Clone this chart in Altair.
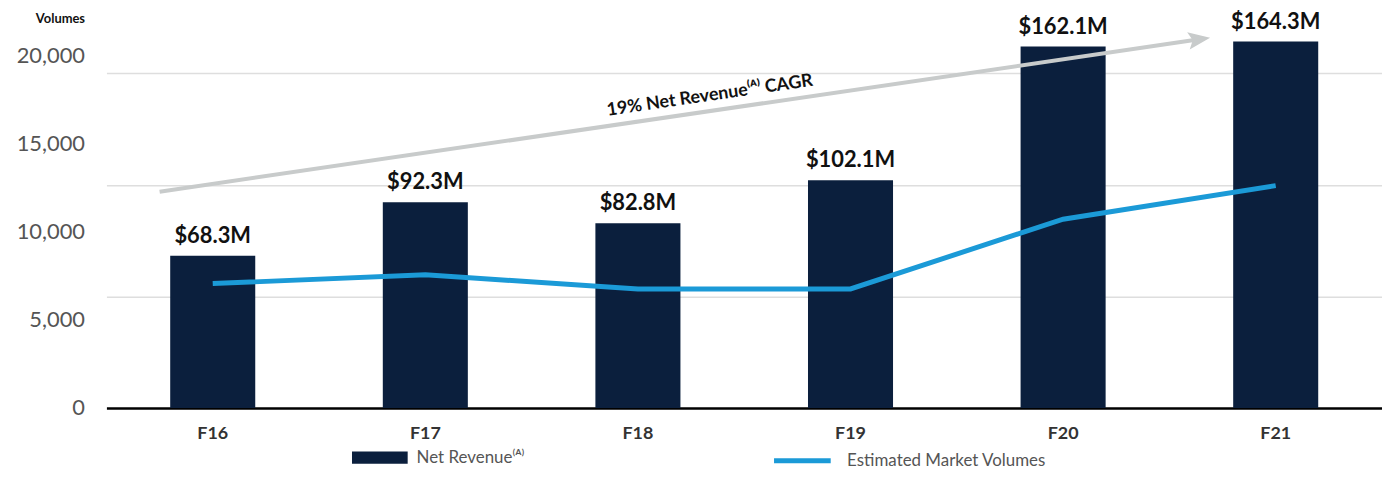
import altair as alt
import pandas as pd

# ---------------- data ----------------
categories = ["F16", "F17", "F18", "F19", "F20", "F21"]
revenue = [68.3, 92.3, 82.8, 102.1, 162.1, 164.3]          # $M
revenue_labels = ["$68.3M", "$92.3M", "$82.8M", "$102.1M", "$162.1M", "$164.3M"]
volumes = [7050, 7550, 6750, 6750, 10700, 12600]
volume_ticks = [0, 5000, 10000, 15000, 20000]
revenue_grid = [50, 100, 150]

rev_series = "Net Revenue⁽ᴬ⁾"
vol_series = "Estimated Market Volumes"

# CAGR arrow annotation, in category-index / $M units
arrow_x = [-0.25, 4.687]
arrow_rev = [97.0, 166.0]
cagr_text = ["19% Net Revenue⁽ᴬ⁾ CAGR"]
cagr_x = [2.336]
cagr_rev = [140.0]

# ---------------- styles ----------------
NAVY = "#0b1f3d"
BLUE = "#1b9ad7"
GREY = "#c8cbcb"
FONT = "Lato"
REV_DOMAIN = [0, 173.4]
VOL_DOMAIN = [0, 21915]

df = pd.DataFrame({
    "cat": categories,
    "revenue": revenue,
    "label": revenue_labels,
    "volume": volumes,
    "s_rev": [rev_series] * len(categories),
    "s_vol": [vol_series] * len(categories),
})

line_end = [arrow_x[0] + 0.985 * (arrow_x[1] - arrow_x[0]),
            arrow_rev[0] + 0.985 * (arrow_rev[1] - arrow_rev[0])]
arrow_line_df = pd.DataFrame({"xi": [arrow_x[0], line_end[0]],
                              "rev": [arrow_rev[0], line_end[1]]})
arrow_head_df = pd.DataFrame({"xi": [arrow_x[1]], "rev": [arrow_rev[1]]})
cagr_df = pd.DataFrame({"xi": cagr_x, "rev": cagr_rev, "t": cagr_text})


def xband(axis=None):
    return alt.X("cat:N", sort=categories,
                 scale=alt.Scale(domain=categories, paddingInner=0.6, paddingOuter=0.3),
                 axis=axis)


x_q_scale = alt.Scale(domain=[-0.5, 5.495], nice=False, zero=False)
rev_scale = alt.Scale(domain=REV_DOMAIN, nice=False, zero=True)
vol_scale = alt.Scale(domain=VOL_DOMAIN, nice=False, zero=True)

bars = alt.Chart(df).mark_bar().encode(
    x=xband(alt.Axis(title=None, labelFontSize=18, labelFontWeight="bold",
                     labelColor="#333333", labelFont=FONT, labelPadding=17,
                     labelAngle=0, ticks=False, domainColor="#000000",
                     domainWidth=2.5, grid=False)),
    y=alt.Y("revenue:Q", scale=rev_scale,
            axis=alt.Axis(orient="right", values=revenue_grid, grid=True,
                          gridColor="#dedede", gridWidth=1.5, labels=False,
                          ticks=False, domain=False, title=None)),
    color=alt.Color("s_rev:N",
                    scale=alt.Scale(domain=[rev_series], range=[NAVY]),
                    legend=alt.Legend(title=None, orient="none", legendX=247,
                                      legendY=411, padding=0,
                                      symbolType="M-1,-0.22H1V0.22H-1Z",
                                      symbolSize=3136, symbolStrokeWidth=0,
                                      labelFontSize=17, labelColor="#555555",
                                      labelFont=FONT, labelOffset=9,
                                      labelLimit=400)),
)

bar_text = alt.Chart(df).mark_text(
    font=FONT, fontSize=22, fontWeight="bold", color="#111111",
    baseline="alphabetic", align="center", dy=-13,
).encode(
    x=xband(None),
    y=alt.Y("revenue:Q", scale=rev_scale, axis=None),
    text="label:N",
)

vol_line = alt.Chart(df).mark_line(strokeWidth=5).encode(
    x=xband(None),
    y=alt.Y("volume:Q", scale=vol_scale,
            axis=alt.Axis(orient="left", values=volume_ticks, format=",.0f",
                          labelFontSize=22, labelColor="#555555", labelFont=FONT,
                          labelPadding=22, ticks=False, domain=False, grid=False,
                          title="Volumes", titleAngle=0, titleAlign="right",
                          titleBaseline="middle", titleX=-22, titleY=-3,
                          titleFontSize=13, titleFontWeight="bold",
                          titleColor="#111111", titleFont=FONT)),
    color=alt.Color("s_vol:N",
                    scale=alt.Scale(domain=[vol_series], range=[BLUE]),
                    legend=alt.Legend(title=None, orient="none", legendX=669,
                                      legendY=411, padding=0,
                                      symbolType="stroke", symbolSize=3249,
                                      symbolStrokeWidth=5,
                                      labelFontSize=17, labelColor="#555555",
                                      labelFont=FONT, labelOffset=14,
                                      labelLimit=400)),
)

arrow_line = alt.Chart(arrow_line_df).mark_line(color=GREY, strokeWidth=4).encode(
    x=alt.X("xi:Q", scale=x_q_scale, axis=None),
    y=alt.Y("rev:Q", scale=rev_scale, axis=None),
)

arrow_head = alt.Chart(arrow_head_df).mark_point(
    shape="M0,0L-2,-0.8L-1.6,0L-2,0.8Z", size=484, filled=True,
    color=GREY, opacity=1, strokeWidth=0, angle=351.65,
).encode(
    x=alt.X("xi:Q", scale=x_q_scale, axis=None),
    y=alt.Y("rev:Q", scale=rev_scale, axis=None),
)

cagr = alt.Chart(cagr_df).mark_text(
    font=FONT, fontSize=18, fontWeight="bold", color="#111111",
    angle=351.65, align="center", baseline="middle",
).encode(
    x=alt.X("xi:Q", scale=x_q_scale, axis=None),
    y=alt.Y("rev:Q", scale=rev_scale, axis=None),
    text="t:N",
)

chart = alt.layer(
    bars, arrow_line, arrow_head, cagr, bar_text, vol_line
).resolve_scale(
    x="independent", y="independent", color="independent"
).resolve_legend(
    color="independent"
).properties(
    width=1283, height=389,
    autosize=alt.AutoSizeParams(type="none"),
    padding={"left": 99, "top": 12, "right": 0, "bottom": 61},
    background="white",
).configure_view(stroke=None)

chart.save("out.html", embed_options={"renderer": "svg", "actions": False})
